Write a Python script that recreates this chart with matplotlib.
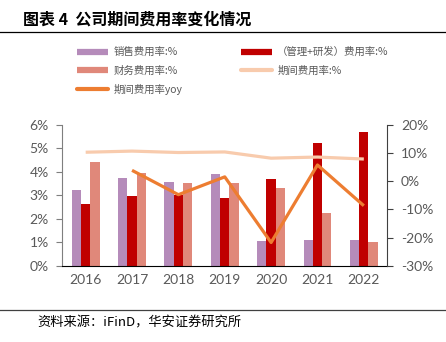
import matplotlib
matplotlib.use("Agg")
from matplotlib import pyplot as plt
from matplotlib.lines import Line2D
from matplotlib.ticker import FuncFormatter
import numpy as np

plt.rcParams['font.family'] = ['Noto Sans CJK SC', 'DejaVu Sans']

years = ["2016", "2017", "2018", "2019", "2020", "2021", "2022"]
sales = [3.22, 3.72, 3.57, 3.89, 1.06, 1.09, 1.11]
mgmt_rd = [2.61, 2.98, 3.00, 2.87, 3.69, 5.20, 5.69]
finance = [4.40, 3.93, 3.50, 3.53, 3.30, 2.23, 1.01]
period = [10.2, 10.6, 10.1, 10.3, 8.1, 8.5, 7.8]
yoy_years = ["2017", "2018", "2019", "2020", "2021", "2022"]
yoy = [3.8, -4.8, 1.5, -21.7, 5.7, -8.7]

c_sales = "#B58BBA"
c_mgmt = "#C00000"
c_fin = "#E0887A"
c_period = "#F8CBAD"
c_yoy = "#ED7D31"
gray = "#595959"

fig = plt.figure(figsize=(4.46, 3.42), dpi=100)
ax = fig.add_axes([62.5 / 446, 1 - 266 / 342, (387 - 62.5) / 446, (266 - 124.5) / 342])
ax2 = ax.twinx()

x = np.arange(len(years))
w = 0.2
ax.bar(x - w, sales, w, color=c_sales)
ax.bar(x, mgmt_rd, w, color=c_mgmt)
ax.bar(x + w, finance, w, color=c_fin)

ax2.plot(x, period, color=c_period, lw=2.3, solid_capstyle='butt')
ax2.plot(x[1:], yoy, color=c_yoy, lw=2.3, solid_capstyle='butt')

ax.set_xlim(-0.5, len(years) - 0.5)
ax.set_ylim(0, 6)
ax2.set_ylim(-30, 20)
ax.set_yticks(range(0, 7))
ax2.set_yticks(range(-30, 21, 10))
ax.yaxis.set_major_formatter(FuncFormatter(lambda v, p: f"{v:.0f}%"))
ax2.yaxis.set_major_formatter(FuncFormatter(lambda v, p: f"{v:.0f}%"))
ax.set_xticks(x)
ax.set_xticklabels(years)

for a in (ax, ax2):
    a.spines['top'].set_visible(False)
    a.tick_params(labelsize=10, colors=gray, labelfontfamily='Lato')
ax.spines['right'].set_visible(False)
ax2.spines['left'].set_visible(False)
ax2.spines['bottom'].set_visible(False)
ax.spines['left'].set_color("#7f7f7f")
ax2.spines['right'].set_color("#404040")
ax.spines['bottom'].set_color("black")
ax.tick_params(axis='x', length=0, pad=6)
ax.tick_params(axis='y', length=4, direction='out', color="#7f7f7f", pad=6)
ax2.tick_params(axis='y', length=4, direction='out', color="#404040", pad=6)

handles = [
    Line2D([], [], color=c_sales, lw=4.5, solid_capstyle='butt'),
    Line2D([], [], color=c_fin, lw=4.5, solid_capstyle='butt'),
    Line2D([], [], color=c_yoy, lw=3, solid_capstyle='round'),
    Line2D([], [], color=c_mgmt, lw=4.5, solid_capstyle='butt'),
    Line2D([], [], color=c_period, lw=3, solid_capstyle='round'),
]
labels = ["销售费用率:%", "财务费用率:%", "期间费用率yoy", "（管理+研发）费用率:%", "期间费用率:%"]
leg = fig.legend(handles, labels, ncol=2, loc='upper left', bbox_to_anchor=(77 / 446, 1 - 47 / 342),
                 frameon=False, fontsize=7.5, handlelength=3.0, handletextpad=0.5,
                 columnspacing=5.6, labelspacing=0.78, borderaxespad=0, borderpad=0)
for t in leg.get_texts():
    t.set_color(gray)

fig.text(23 / 446, 1 - 20 / 342, "图表 4  公司期间费用率变化情况", fontsize=11.5, fontweight='bold',
         va='center', ha='left', color="black")
fig.add_artist(Line2D([0, 1], [1 - 32 / 342, 1 - 32 / 342], color="black", lw=0.9))
fig.add_artist(Line2D([0, 1], [1 - 310 / 342, 1 - 310 / 342], color="#404040", lw=0.9))
fig.text(37 / 446, 1 - 323 / 342, "资料来源：iFinD，华安证券研究所", fontsize=9.5,
         va='center', ha='left', color="black")

fig.savefig("out.png", dpi=100)
